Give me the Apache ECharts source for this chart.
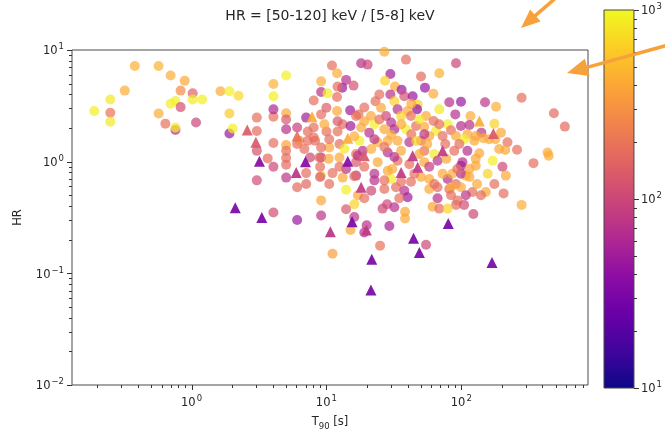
<!DOCTYPE html>
<html><head><meta charset="utf-8">
<script src="https://cdn.jsdelivr.net/npm/echarts@6/dist/echarts.min.js"></script>
<style>html,body{margin:0;padding:0;background:#fff}#c{width:665px;height:436px}</style>
</head><body><div id="c"></div>
<script>
// ---- data (T90 [s], HR, colour value) ----
const circleT90 = [0.19,0.25,0.25,0.25,0.32,0.38,0.57,0.7,0.89,0.83,1.02,0.7,0.76,1.02,1.2,0.83,0.57,0.64,0.76,0.76,1.08,1.64,1.91,2.23,1.91,1.91,2.02,3.05,3.05,3.05,3.67,4.05,3.05,4.05,4.05,4.05,4.05,4.05,5.03,5.03,5.03,5.03,5.03,5.03,5.03,5.03,5.03,6.07,6.07,6.07,7.08,7.08,8.05,8.05,8.05,9.14,9.14,9.14,9.14,9.14,9.14,9.14,4.05,6.07,11.0,12.0,14.0,15.9,13.1,12.1,10.2,12.0,10.0,12.0,15.0,16.6,7.27,6.31,7.27,8.25,10.0,12.1,13.2,15.1,12.5,10.5,9.14,7.57,8.87,10.4,12.5,16.6,16.6,26.9,18.1,20.2,38.9,91.4,29.8,50.3,68.7,27.2,32.3,36.1,53.8,62.1,29.8,37.8,43.6,47.5,47.0,31.9,33.7,40.0,23.1,25.4,81.5,99.5,117,17.3,21.4,27.7,35.8,42.4,54.8,62.4,30.2,22.7,18.1,20.8,31.9,38.9,46.2,53.2,65.0,79.2,83.9,99.5,115,91.4,111,72.7,57.9,50.3,41.2,33.7,28.5,24.0,17.6,18.6,17.1,28.5,35.8,53.2,63.1,88.7,111,24.0,33.7,53.2,66.7,102,280,486,586,181,150,176,197,141,105,125,161,191,220,259,171,202,157,214,343,436,445,280,136,128,108,99.5,121,152,206,140,123,91.4,81.5,91.4,79.2,128,146,179,212,128,115,17.1,16.1,19.9,29.3,26.1,28.2,31.9,38.3,38.3,25.0,54.8,61.3,68.7,79.2,93.9,105,66.7,57.9,66.7,83.9,99.5,83.9,108,57.9,72.7,85.8,99.5,115,30.2,26.9,32.8,37.8,40.0,22.7,22.7,26.9,28.5,35.8,42.4,50.3,16.6,7.08,8.98,8.98,11.1,13.2,16.1,14.0,14.0,16.1,14.0,15.1,11.1,19.1,19.1,24.7,30.3,35.9,42.6,48.9,68.7,56.0,76.1,26.9,21.5,31.9,41.2,48.9,77.4,93.4,19.1,12.5,13.6,57.9,26.9,46.4,22.7,16.1,10.5,24.7,42.6,19.1,68.7,90.3,53.2,96.7,30.8,44.9,63.1,19.1,21.5,12.1,9.67,6.87,10.5,34.7,131,176];
const circleHR = [2.84,3.6,2.74,2.28,4.33,7.2,7.2,5.9,5.3,4.33,4.1,3.3,3.5,3.6,3.6,3.08,2.7,2.19,1.92,2.02,2.24,4.27,4.27,3.9,2.7,1.79,1.98,2.48,1.88,1.25,1.07,0.90,0.68,1.47,2.53,2.94,3.85,4.96,5.92,2.71,2.39,1.95,1.41,1.25,1.08,0.94,0.72,2.02,1.44,0.59,0.63,2.48,2.02,1.65,3.53,5.24,4.21,2.65,1.09,0.75,0.45,0.33,0.35,0.30,7.26,6.2,5.4,4.8,4.6,4.7,4.1,3.8,3.04,2.84,2.88,2.56,1.86,1.54,1.54,1.54,1.86,1.86,2.16,2.09,1.44,1.34,1.34,1.09,1.09,1.06,1.09,1.17,0.99,9.66,7.6,7.4,8.2,7.6,6.1,5.8,6.2,5.3,4.7,4.4,4.6,4.05,4.0,3.85,3.85,3.25,2.94,3.48,2.94,2.84,3.48,3.04,3.41,3.44,2.56,2.65,2.56,2.56,2.56,2.56,2.56,2.31,2.24,2.16,2.02,1.82,1.95,1.95,2.09,2.05,1.88,2.16,1.91,2.09,2.13,1.70,1.76,1.70,1.70,1.54,1.49,1.54,1.54,1.49,1.54,1.25,1.13,1.21,1.25,1.25,1.17,1.25,1.25,0.99,1.02,0.99,1.02,0.99,3.73,2.71,2.06,3.10,3.41,2.19,1.82,1.82,1.59,1.54,1.59,1.30,1.49,1.28,1.02,0.90,0.78,0.75,0.97,1.21,1.13,0.41,1.19,0.92,0.75,0.92,0.535,0.535,0.52,0.50,0.34,0.41,0.57,0.63,0.70,1.70,1.62,1.59,1.27,1.06,0.86,0.50,0.32,0.27,0.265,0.38,0.415,0.39,0.356,0.31,0.177,0.18,0.394,0.38,0.38,0.45,0.41,0.47,0.57,0.59,0.59,0.59,0.50,0.50,0.70,0.78,0.78,0.78,0.73,0.70,0.57,0.59,0.55,0.48,0.78,0.68,0.68,0.83,0.66,0.66,0.73,0.75,0.79,0.90,0.73,0.79,0.72,0.74,0.86,0.56,0.415,0.375,0.244,0.15,0.232,2.30,2.39,1.73,2.16,1.76,2.39,2.16,1.44,1.44,1.35,1.30,1.10,0.95,1.17,1.06,0.86,0.90,0.90,1.30,0.90,1.95,1.53,1.59,1.69,1.59,4.0,3.3,3.06,2.94,2.65,1.76,1.44,0.86,0.78,0.63,0.47,0.55,2.30,2.16,1.30,0.63,0.47,0.63,0.63];
const circleColor = [900,850,200,850,420,450,450,420,400,280,150,900,900,880,900,110,430,190,70,900,95,420,900,700,600,45,900,180,170,120,170,100,110,180,180,60,900,450,920,400,130,70,380,190,180,170,75,90,180,170,160,50,180,190,180,420,70,180,70,650,400,75,110,45,180,420,70,120,45,180,900,180,140,400,50,180,180,260,180,170,180,190,170,50,180,400,180,100,180,400,400,180,130,420,70,95,170,95,50,170,450,650,420,45,45,420,70,120,45,650,40,650,70,400,180,400,70,45,420,180,400,100,650,180,400,180,70,900,400,70,60,900,180,400,850,900,180,70,70,400,400,180,400,180,70,400,400,420,900,70,75,70,400,180,850,180,70,400,180,400,70,70,180,170,170,420,75,650,400,75,900,400,400,400,180,180,900,100,650,400,180,420,420,420,400,400,400,50,180,400,180,180,100,180,180,180,70,400,420,420,400,400,400,400,75,70,55,100,100,70,400,400,200,100,400,180,650,180,110,70,400,180,400,400,180,75,400,400,420,70,400,900,180,180,70,50,70,70,180,400,180,180,400,70,180,180,130,180,400,180,70,900,650,130,400,350,70,400,180,420,400,180,850,180,400,180,180,420,70,180,400,400,180,180,180,850,80,400,650,75,420,180,180,400,180,850,70,75,180,420,180,180,180,100,130,400,180,180,180,400,180];
const triT90 = [2.59,3.0,3.19,6.07,5.97,6.99,7.83,2.11,3.32,14.4,14.4,43.6,72.7,19.1,136,173,18.1,19.8,44.3,48.9,21.7,21.4,80.1,47.5,35.8,15.5,10.7,169];
const triHR = [1.92,1.49,1.01,1.70,0.80,1.0,2.53,0.386,0.316,1.62,1.01,1.13,1.25,1.13,2.31,1.79,0.59,0.244,0.206,0.154,0.134,0.071,0.28,0.89,0.80,0.29,0.236,0.125];
const triColor = [140,130,35,190,75,35,420,30,30,420,35,80,80,130,420,130,80,80,30,30,30,30,30,80,80,30,75,30];

// axes
const xRange = [0.13, 870];
const yRange = [0.01, 10];
const cbRange = [10, 1000];
const titleText = 'HR = [50-120] keV / [5-8] keV';
const xName = 'T{sub|90} [s]';
const yName = 'HR';

const plasma = ['#0d0887','#41049d','#6a00a8','#8f0da4','#b12a90','#cc4778','#e16462','#f2844b','#fca636','#fcce25','#f0f921'];
const FONT = 'DejaVu Sans';
const TXT = '#262626';

function decadeTicks(lo, hi) {
  const out = [];
  for (let e = Math.floor(Math.log10(lo)); e <= Math.ceil(Math.log10(hi)); e++) {
    for (let m = 1; m <= 9; m++) {
      const v = m * Math.pow(10, e);
      if (v >= lo * 0.9999 && v <= hi * 1.0001) out.push([v, m === 1 ? 1 : 0.5]);
    }
  }
  return out;
}
function powLabel(v) {
  const e = Math.log10(v);
  const r = Math.round(e);
  if (Math.abs(e - r) > 1e-6) return '';
  return '{b|10}{s|' + (r < 0 ? '\u2212' + (-r) : r) + '}';
}
const richPow = {
  b: {fontFamily: FONT, fontSize: 11.5, color: TXT, lineHeight: 15, verticalAlign: 'bottom'},
  s: {fontFamily: FONT, fontSize: 8.5, color: TXT, lineHeight: 15, verticalAlign: 'top', padding: [0, 0, 0, 1]}
};

const chart = echarts.init(document.getElementById('c'), null, {renderer: 'canvas'});

const circleData = circleT90.map((t, i) => [t, circleHR[i], Math.log10(circleColor[i])]);
const triData = triT90.map((t, i) => [t, triHR[i], Math.log10(triColor[i])]);

function arrow(tail, tip, hl, hw, color, lw) {
  const dx = tip[0] - tail[0], dy = tip[1] - tail[1];
  const L = Math.hypot(dx, dy), ux = dx / L, uy = dy / L;
  const bx = tip[0] - ux * hl, by = tip[1] - uy * hl;
  const px = -uy, py = ux;
  return [
    {type: 'polyline', silent: true, z: 100, shape: {points: [tail, [bx + ux * 2, by + uy * 2]]}, style: {stroke: color, lineWidth: lw, fill: null}},
    {type: 'polygon', silent: true, z: 100, shape: {points: [tip, [bx + px * hw, by + py * hw], [bx - px * hw, by - py * hw]]}, style: {fill: color}}
  ];
}

const option = {
  animation: false,
  backgroundColor: '#fff',
  textStyle: {fontFamily: FONT},
  grid: [
    {left: 72, top: 50, width: 516, height: 338, show: true, borderColor: '#4a4a4a', borderWidth: 1, backgroundColor: 'transparent'},
    {left: 604, top: 10, width: 30, height: 378, show: false}
  ],
  xAxis: [
    {type: 'log', logBase: 10, gridIndex: 0, min: xRange[0], max: xRange[1],
     axisLine: {show: false}, axisTick: {show: false}, splitLine: {show: false},
     axisLabel: {margin: 9, formatter: powLabel, rich: richPow, showMinLabel: false, showMaxLabel: false},
     name: xName, nameLocation: 'middle', nameGap: 29,
     nameTextStyle: {fontFamily: FONT, fontSize: 11.5, color: TXT,
       rich: {sub: {fontFamily: FONT, fontSize: 8.5, color: TXT, lineHeight: 17, verticalAlign: 'bottom'}}}},
    {type: 'value', gridIndex: 1, min: 0, max: 1, show: false}
  ],
  yAxis: [
    {type: 'log', logBase: 10, gridIndex: 0, min: yRange[0], max: yRange[1],
     axisLine: {show: false}, axisTick: {show: false}, splitLine: {show: false},
     axisLabel: {margin: 8, formatter: powLabel, rich: richPow},
     name: yName, nameLocation: 'middle', nameGap: 48, nameRotate: 90,
     nameTextStyle: {fontFamily: FONT, fontSize: 11.5, color: TXT}},
    {type: 'log', logBase: 10, gridIndex: 1, min: cbRange[0], max: cbRange[1], position: 'right',
     axisLine: {show: false}, axisTick: {show: false}, splitLine: {show: false},
     axisLabel: {margin: 7, formatter: powLabel, rich: richPow}}
  ],
  visualMap: [{type: 'continuous', show: false, min: 1, max: 3, dimension: 2, seriesIndex: [0, 1],
    inRange: {color: plasma}}],
  series: [
    {type: 'scatter', name: 'circles', xAxisIndex: 0, yAxisIndex: 0, data: circleData,
     symbol: 'circle', symbolSize: 10, itemStyle: {opacity: 0.7}, z: 3},
    {type: 'scatter', name: 'triangles', xAxisIndex: 0, yAxisIndex: 0, data: triData,
     symbol: 'triangle', symbolSize: 11, itemStyle: {opacity: 0.92}, z: 4},
    // x ticks
    {type: 'custom', xAxisIndex: 0, yAxisIndex: 0, silent: true, z: 6, clip: false,
     data: decadeTicks(xRange[0], xRange[1]), encode: {x: 0, y: 1},
     renderItem: function (params, api) {
       const p = api.coord([api.value(0), yRange[0]]);
       const len = api.value(1) > 0.7 ? 5 : 3;
       const x = Math.round(p[0]) + 0.5;
       return {type: 'line', shape: {x1: x, y1: p[1], x2: x, y2: p[1] + len}, style: {stroke: '#333', lineWidth: 1}};
     }},
    // y ticks
    {type: 'custom', xAxisIndex: 0, yAxisIndex: 0, silent: true, z: 6, clip: false,
     data: decadeTicks(yRange[0], yRange[1]).map(d => [d[1], d[0]]), encode: {x: 0, y: 1},
     renderItem: function (params, api) {
       const p = api.coord([xRange[0], api.value(1)]);
       const len = api.value(0) > 0.7 ? 5 : 3;
       const y = Math.round(p[1]) + 0.5;
       return {type: 'line', shape: {x1: p[0], y1: y, x2: p[0] - len, y2: y}, style: {stroke: '#333', lineWidth: 1}};
     }},
    // colour bar
    {type: 'custom', xAxisIndex: 1, yAxisIndex: 1, silent: true, z: 2, clip: false,
     data: [[0, cbRange[0], 1, cbRange[1]]], encode: {x: 0, y: 1},
     renderItem: function (params, api) {
       const a = api.coord([api.value(0), api.value(1)]);
       const b = api.coord([api.value(2), api.value(3)]);
       const stops = plasma.map((c, i) => ({offset: i / (plasma.length - 1), color: c}));
       return {type: 'rect', shape: {x: a[0], y: b[1], width: b[0] - a[0], height: a[1] - b[1]},
         style: {fill: new echarts.graphic.LinearGradient(0, 1, 0, 0, stops), stroke: '#444', lineWidth: 1}};
     }},
    // colour bar ticks
    {type: 'custom', xAxisIndex: 1, yAxisIndex: 1, silent: true, z: 6, clip: false,
     data: decadeTicks(cbRange[0], cbRange[1]).map(d => [d[1], d[0]]), encode: {x: 0, y: 1},
     renderItem: function (params, api) {
       const p = api.coord([1, api.value(1)]);
       const len = api.value(0) > 0.7 ? 5 : 3;
       const y = Math.round(p[1]) + 0.5;
       return {type: 'line', shape: {x1: p[0], y1: y, x2: p[0] + len, y2: y}, style: {stroke: '#333', lineWidth: 1}};
     }}
  ],
  graphic: [
    {type: 'text', x: 330, y: 16, silent: true, z: 100,
     style: {text: titleText, fontFamily: FONT, fontSize: 14, fill: TXT, align: 'center', verticalAlign: 'middle'}}
  ].concat(arrow([558, -4], [521, 28], 19, 8, '#f7a13a', 3.5))
   .concat(arrow([668, 45], [567, 73], 21, 9, '#f7a13a', 3.5))
};
chart.setOption(option);
</script>
</body></html>
